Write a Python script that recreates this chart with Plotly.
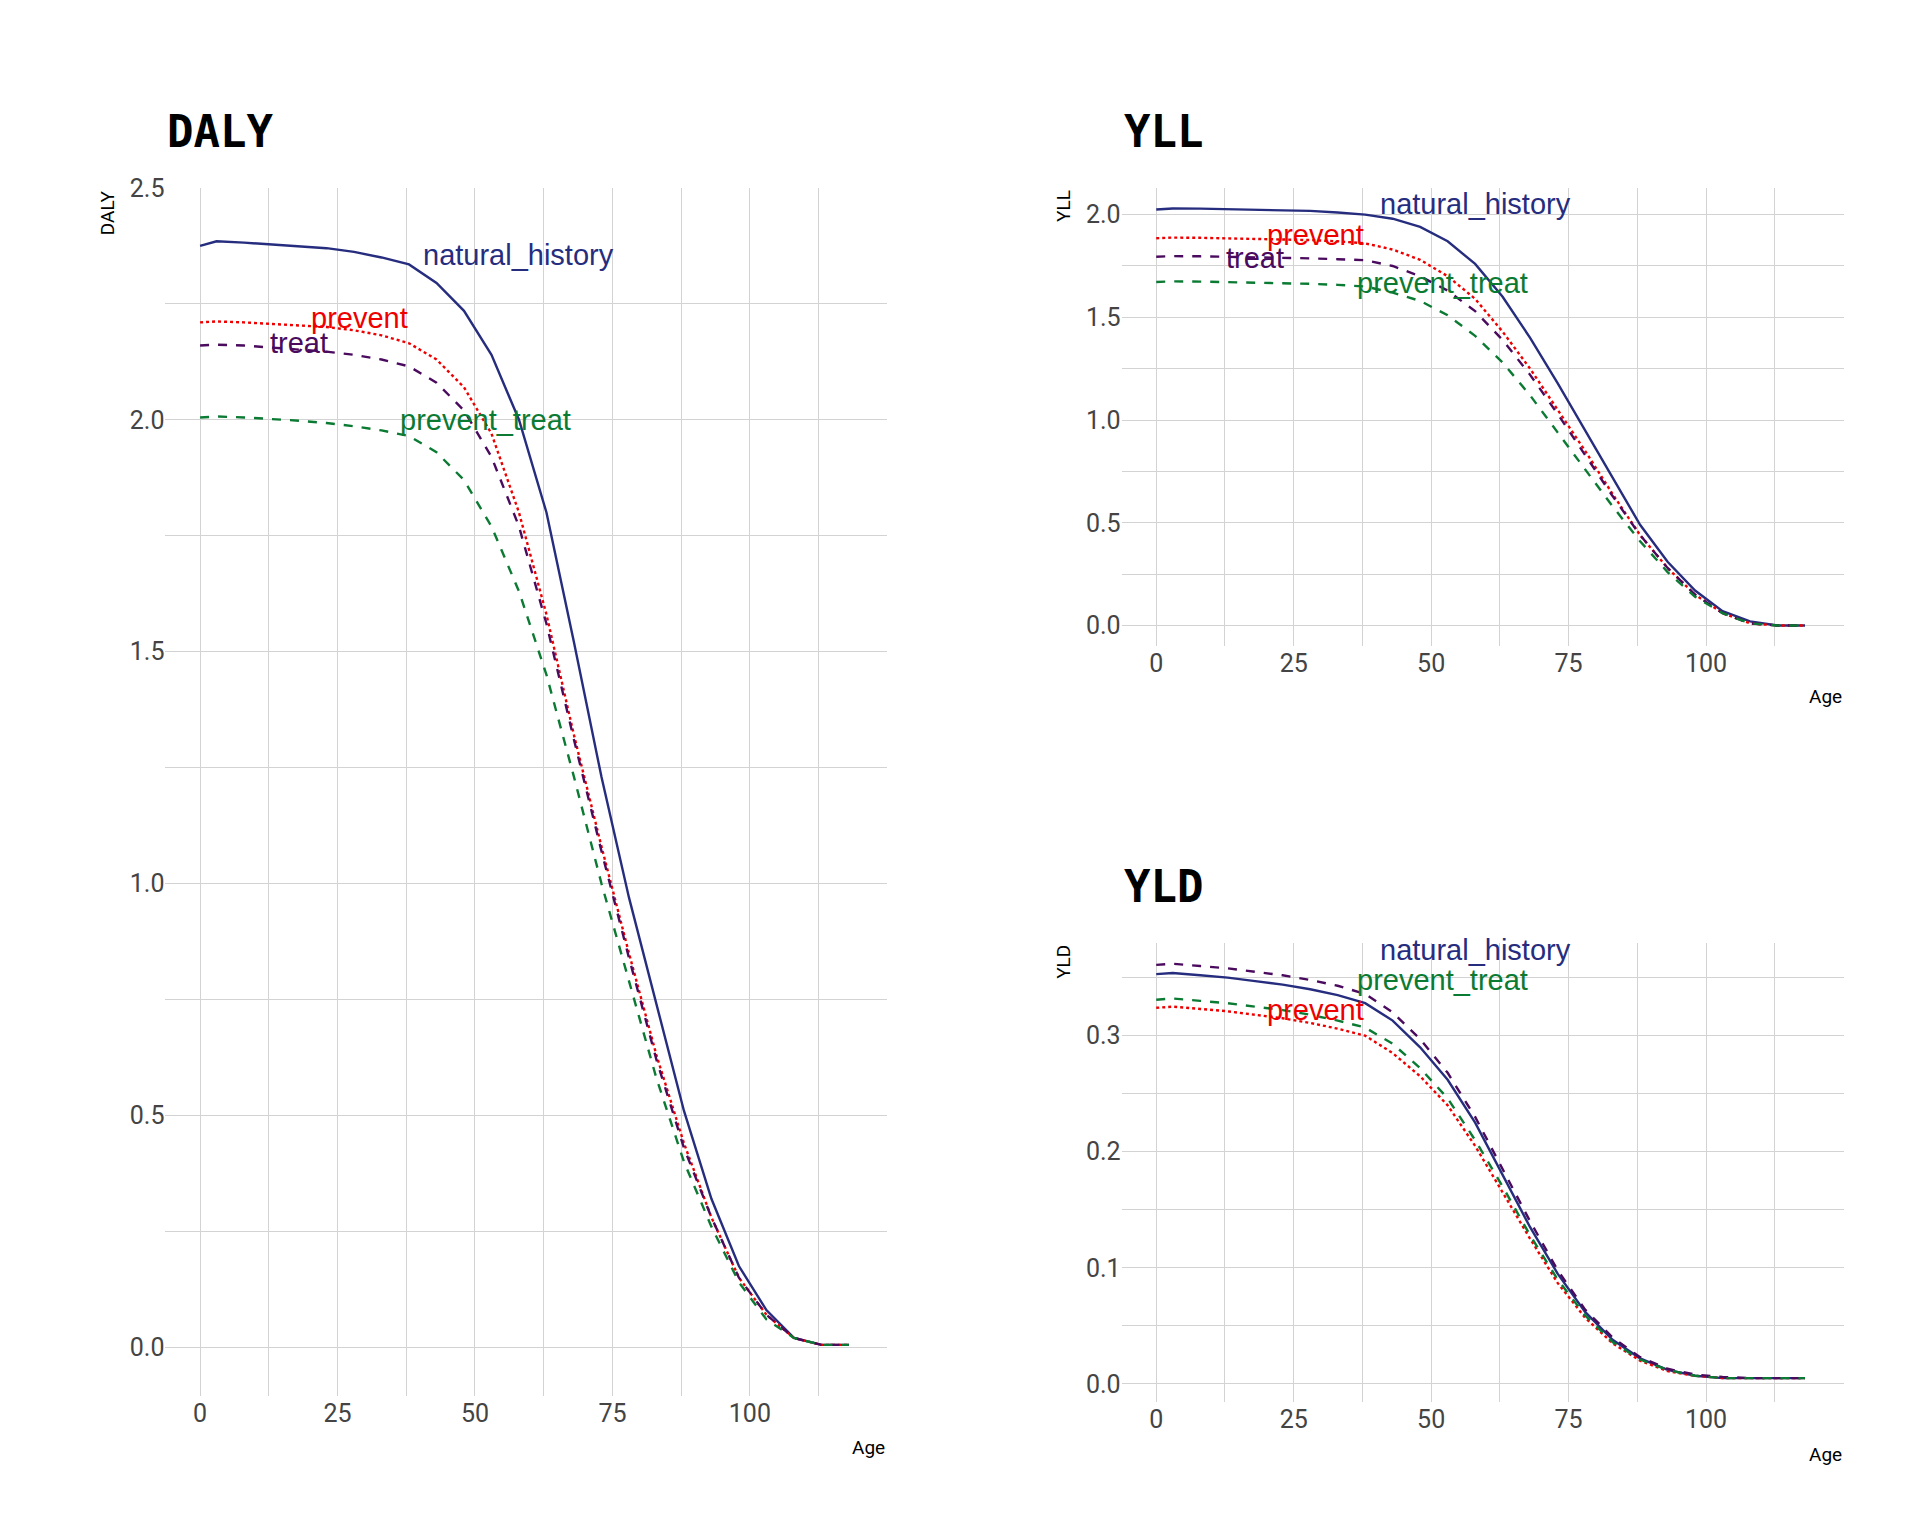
import plotly.graph_objects as go

ages = [0, 3, 8, 13, 18, 23, 28, 33, 38, 43, 48, 53, 58, 63, 68, 73, 78, 83, 88, 93, 98, 103, 108, 113, 118]

daly_natural = [2.375, 2.385, 2.382, 2.378, 2.375, 2.37, 2.362, 2.35, 2.335, 2.295, 2.235, 2.14, 2.0, 1.8, 1.52, 1.23, 0.97, 0.74, 0.51, 0.32, 0.175, 0.08, 0.02, 0.005, 0.005]
daly_prevent = [2.21, 2.212, 2.21, 2.207, 2.203, 2.2, 2.193, 2.182, 2.165, 2.13, 2.07, 1.97, 1.8, 1.58, 1.32, 1.08, 0.85, 0.63, 0.44, 0.28, 0.15, 0.07, 0.02, 0.005, 0.005]
daly_treat = [2.16, 2.162, 2.16, 2.156, 2.152, 2.147, 2.14, 2.13, 2.115, 2.08, 2.02, 1.92, 1.77, 1.56, 1.31, 1.07, 0.84, 0.62, 0.43, 0.28, 0.15, 0.07, 0.02, 0.005, 0.005]
daly_prevent_treat = [2.005, 2.007, 2.005, 2.002, 1.998, 1.993, 1.986, 1.977, 1.965, 1.93, 1.87, 1.77, 1.63, 1.45, 1.23, 1.0, 0.79, 0.58, 0.4, 0.26, 0.14, 0.06, 0.02, 0.005, 0.005]

yll_natural = [2.025, 2.03, 2.029, 2.027, 2.025, 2.022, 2.018, 2.01, 2.0, 1.98, 1.94, 1.87, 1.76, 1.6, 1.4, 1.18, 0.95, 0.72, 0.49, 0.31, 0.17, 0.07, 0.02, 0.0, 0.0]
yll_prevent = [1.885, 1.888, 1.887, 1.885, 1.883, 1.88, 1.876, 1.87, 1.86, 1.83, 1.78, 1.7, 1.59, 1.43, 1.25, 1.05, 0.85, 0.64, 0.44, 0.28, 0.15, 0.06, 0.01, 0.0, 0.0]
yll_treat = [1.795, 1.798, 1.797, 1.795, 1.793, 1.79, 1.787, 1.783, 1.778, 1.75, 1.7, 1.63, 1.53, 1.39, 1.22, 1.03, 0.83, 0.63, 0.44, 0.28, 0.15, 0.06, 0.01, 0.0, 0.0]
yll_prevent_treat = [1.672, 1.675, 1.674, 1.672, 1.67, 1.667, 1.663, 1.658, 1.65, 1.62, 1.58, 1.51, 1.41, 1.28, 1.12, 0.94, 0.76, 0.58, 0.41, 0.26, 0.14, 0.06, 0.01, 0.0, 0.0]

yld_natural = [0.353, 0.354, 0.352, 0.35, 0.347, 0.344, 0.34, 0.335, 0.328, 0.313, 0.29, 0.262, 0.225, 0.18, 0.135, 0.095, 0.062, 0.038, 0.022, 0.012, 0.007, 0.005, 0.005, 0.005, 0.005]
yld_prevent = [0.324, 0.325, 0.323, 0.321, 0.318, 0.315, 0.311, 0.306, 0.3, 0.285, 0.265, 0.24, 0.205, 0.165, 0.125, 0.087, 0.057, 0.035, 0.02, 0.011, 0.007, 0.005, 0.005, 0.005, 0.005]
yld_treat = [0.361, 0.362, 0.36, 0.358, 0.355, 0.352, 0.348, 0.343, 0.336, 0.32, 0.297, 0.268, 0.23, 0.185, 0.14, 0.098, 0.064, 0.04, 0.023, 0.013, 0.008, 0.006, 0.005, 0.005, 0.005]
yld_prevent_treat = [0.331, 0.332, 0.33, 0.328, 0.325, 0.322, 0.318, 0.313, 0.307, 0.293, 0.272, 0.246, 0.21, 0.17, 0.128, 0.09, 0.059, 0.036, 0.021, 0.012, 0.007, 0.005, 0.005, 0.005, 0.005]

styles = {
    "natural_history": ("#262D7E", "solid"),
    "prevent": ("#EE0000", "dot"),
    "treat": ("#4A0A5E", "dash"),
    "prevent_treat": ("#0B7A32", "dash"),
}

panels = [
    ("DALY", "x", "y", {"natural_history": daly_natural, "prevent": daly_prevent, "treat": daly_treat, "prevent_treat": daly_prevent_treat},
     {"natural_history": (58, 2.355), "prevent": (29, 2.22), "treat": (18, 2.165), "prevent_treat": (52, 2.0)}),
    ("YLL", "x2", "y2", {"natural_history": yll_natural, "prevent": yll_prevent, "treat": yll_treat, "prevent_treat": yll_prevent_treat},
     {"natural_history": (58, 2.05), "prevent": (29, 1.9), "treat": (18, 1.79), "prevent_treat": (52, 1.665)}),
    ("YLD", "x3", "y3", {"natural_history": yld_natural, "prevent": yld_prevent, "treat": yld_treat, "prevent_treat": yld_prevent_treat},
     {"natural_history": (58, 0.374), "prevent_treat": (52, 0.348), "prevent": (29, 0.322)}),
]

fig = go.Figure()
for name, xa, ya, series, labels in panels:
    for key, vals in series.items():
        color, dash = styles[key]
        fig.add_trace(go.Scatter(x=ages, y=vals, mode="lines", xaxis=xa, yaxis=ya,
                                 line=dict(color=color, dash=dash, width=2.4), showlegend=False))
    for key, (lx, ly) in labels.items():
        fig.add_annotation(x=lx, y=ly, xref=xa, yref=ya, text=key, showarrow=False,
                           font=dict(family="Liberation Sans", size=29, color=styles[key][0]))

grid = "#D3D3D3"
tickfont = dict(family="Liberation Sans Narrow, Roboto", size=25, color="#444")
common_x = dict(range=[-6.3, 125], tickvals=[0, 25, 50, 75, 100], gridcolor=grid, zeroline=False,
                minor=dict(tickvals=[12.5, 37.5, 62.5, 87.5, 112.5], showgrid=True, gridcolor=grid),
                tickfont=tickfont, showline=False, ticks="")
fig.update_layout(
    width=1920, height=1536, plot_bgcolor="white", paper_bgcolor="white", margin=dict(l=0, r=0, t=0, b=0),
    xaxis=dict(domain=[0.082, 0.458], anchor="y", **common_x),
    yaxis=dict(domain=[0.097, 0.891], anchor="x", range=[-0.106, 2.5], tickvals=[0, 0.5, 1, 1.5, 2, 2.5],
               ticktext=["0.0", "0.5", "1.0", "1.5", "2.0", "2.5"], gridcolor=grid, zeroline=False, tickfont=tickfont,
               minor=dict(tickvals=[0.25, 0.75, 1.25, 1.75, 2.25], showgrid=True, gridcolor=grid)),
    xaxis2=dict(domain=[0.58, 0.956], anchor="y2", **common_x),
    yaxis2=dict(domain=[0.59, 0.891], anchor="x2", range=[-0.1, 2.13], tickvals=[0, 0.5, 1, 1.5, 2],
                ticktext=["0.0", "0.5", "1.0", "1.5", "2.0"], gridcolor=grid, zeroline=False, tickfont=tickfont,
                minor=dict(tickvals=[0.25, 0.75, 1.25, 1.75], showgrid=True, gridcolor=grid)),
    xaxis3=dict(domain=[0.58, 0.956], anchor="y3", **common_x),
    yaxis3=dict(domain=[0.093, 0.395], anchor="x3", range=[-0.016, 0.38], tickvals=[0, 0.1, 0.2, 0.3],
                ticktext=["0.0", "0.1", "0.2", "0.3"], gridcolor=grid, zeroline=False, tickfont=tickfont,
                minor=dict(tickvals=[0.05, 0.15, 0.25, 0.35], showgrid=True, gridcolor=grid)),
)

titles = [("DALY", 0.082, 0.91), ("YLL", 0.58, 0.91), ("YLD", 0.58, 0.414)]
for t, x, y in titles:
    fig.add_annotation(x=x, y=y, xref="paper", yref="paper", text="<b>" + t + "</b>", showarrow=False,
                       xanchor="left", yanchor="bottom", font=dict(family="DejaVu Sans Mono, DejaVu Sans", size=44, color="black"))
# axis titles
for x, y in [(0.458, 0.072), (0.956, 0.566), (0.956, 0.068)]:
    fig.add_annotation(x=x, y=y, xref="paper", yref="paper", text="Age", showarrow=False,
                       xanchor="right", yanchor="top", font=dict(family="Liberation Sans Narrow, Roboto", size=19, color="black"))
for t, x, y in [("DALY", 0.052, 0.891), ("YLL", 0.55, 0.891), ("YLD", 0.55, 0.395)]:
    fig.add_annotation(x=x, y=y, xref="paper", yref="paper", text=t, showarrow=False, textangle=-90,
                       xanchor="center", yanchor="top", font=dict(family="Liberation Sans Narrow, Roboto", size=19, color="black"))

fig.write_html("out.html")
